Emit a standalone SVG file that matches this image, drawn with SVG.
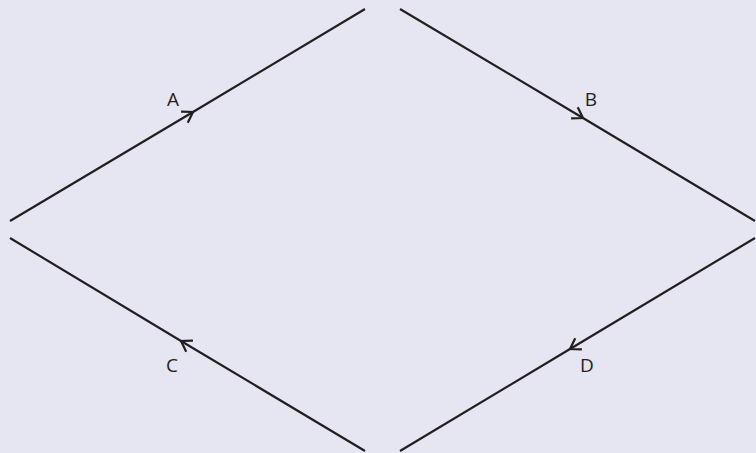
<svg xmlns="http://www.w3.org/2000/svg" width="756" height="453" viewBox="0 0 756 453">
<defs>
<style>
.edge{fill:none;stroke:#231f20;stroke-width:2.2;}
.lbl{font-family:"Open Sans","Liberation Sans",sans-serif;font-size:19px;fill:#231f20;text-anchor:middle;}
</style>
<marker id="chev" markerUnits="userSpaceOnUse" orient="auto" markerWidth="30" markerHeight="30" viewBox="-15 -15 30 30" refX="0" refY="0">
<path d="M -10 -6.5 L 0 0 L -10 6.5" fill="none" stroke="#231f20" stroke-width="2.2" stroke-linejoin="miter"/>
</marker>
</defs>
<rect width="756" height="453" fill="#e5e6f2"/>
<g id="connectors">
<path id="edge-A" class="edge" d="M 10 221 L 193 112 L 365 9" marker-mid="url(#chev)"/>
<path id="edge-B" class="edge" d="M 400 9 L 583 118 L 755 221" marker-mid="url(#chev)"/>
<path id="edge-D" class="edge" d="M 755 238 L 570 349 L 400 451" marker-mid="url(#chev)"/>
<path id="edge-C" class="edge" d="M 365 451 L 181 341 L 10 238" marker-mid="url(#chev)"/>
</g>
<g id="labels">
<text class="lbl" x="173" y="106">A</text>
<text class="lbl" x="591" y="106">B</text>
<text class="lbl" x="172" y="372">C</text>
<text class="lbl" x="587" y="372">D</text>
</g>
</svg>
